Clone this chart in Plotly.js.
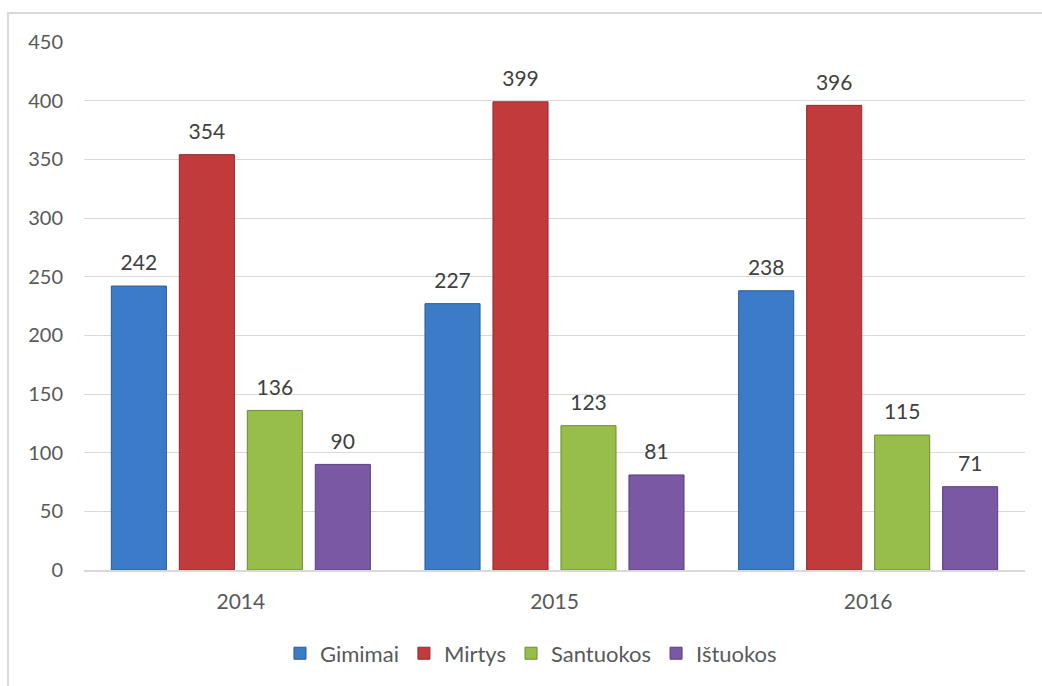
<!DOCTYPE html>
<html>
<head>
<meta charset="utf-8">
<script src="https://cdn.plot.ly/plotly-3.0.1.min.js"></script>
<style>
  html, body { margin: 0; padding: 0; background: #fff; }
  #wrap { position: relative; width: 1042px; height: 686px; }
  #chart { width: 1042px; height: 686px; }
  #frame { position: absolute; left: 7px; top: 12px; right: 0; bottom: 0;
           border-top: 2px solid #D9D9D9; border-left: 2px solid #D9D9D9;
           pointer-events: none; }
</style>
</head>
<body>
<div id="wrap">
  <div id="chart"></div>
  <div id="frame"></div>
</div>
<script>
const years = ['2014', '2015', '2016'];
const seriesNames = ['Gimimai', 'Mirtys', 'Santuokos', 'Ištuokos'];
const gimimai = [242, 227, 238];
const mirtys = [354, 399, 396];
const santuokos = [136, 123, 115];
const istuokos = [90, 81, 71];
const yTicks = [0, 50, 100, 150, 200, 250, 300, 350, 400, 450];

const seriesValues = [gimimai, mirtys, santuokos, istuokos];
const fillColors = ['#3B7BC8', '#C23B3C', '#97BE4A', '#7A58A3'];
const lineColors = ['#2A5A93', '#8E2A2B', '#6E8C33', '#56407A'];

const FONT = 'Lato, "Open Sans", "DejaVu Sans", sans-serif';
const TEXT = '#595959';
const GAP = 0.133;

const barTraces = seriesValues.map((vals, i) => ({
  type: 'bar',
  name: seriesNames[i],
  x: years,
  y: vals,
  marker: { color: fillColors[i], line: { color: lineColors[i], width: 1 } },
  hoverinfo: 'x+y+name'
}));

const labelTraces = seriesValues.map((vals, i) => ({
  type: 'scatter',
  mode: 'markers+text',
  name: seriesNames[i] + ' labels',
  showlegend: false,
  x: years,
  y: vals,
  text: vals.map(String),
  textposition: 'top center',
  textfont: { family: FONT, size: 21, color: '#404040' },
  marker: { size: 15, opacity: 0, color: fillColors[i] },
  cliponaxis: false,
  hoverinfo: 'skip'
}));

const layout = {
  width: 1042,
  height: 686,
  margin: { l: 84, r: 17, t: 42, b: 113 },
  paper_bgcolor: '#ffffff',
  plot_bgcolor: '#ffffff',
  barmode: 'group',
  bargap: GAP,
  bargroupgap: 0.19,
  scattermode: 'group',
  scattergap: GAP,
  font: { family: FONT, size: 20, color: TEXT },
  xaxis: {
    type: 'category',
    showgrid: false,
    showline: true,
    linecolor: '#D9D9D9',
    linewidth: 2,
    ticks: '',
    ticklabelstandoff: 12,
    tickfont: { family: FONT, size: 21, color: TEXT }
  },
  yaxis: {
    range: [0, 450],
    tickvals: yTicks,
    ticktext: yTicks.map(String),
    showgrid: true,
    gridcolor: '#D9D9D9',
    gridwidth: 1,
    zeroline: false,
    showline: false,
    ticks: '',
    ticklabelstandoff: 20,
    tickfont: { family: FONT, size: 20, color: TEXT }
  },
  showlegend: true,
  legend: {
    orientation: 'h',
    x: 0.475,
    xanchor: 'center',
    y: -0.158,
    yanchor: 'middle',
    font: { family: FONT, size: 22, color: TEXT },
    itemwidth: 30,
    traceorder: 'normal'
  }
};

Plotly.newPlot('chart', barTraces.concat(labelTraces), layout, { displayModeBar: false, staticPlot: true });
</script>
</body>
</html>
